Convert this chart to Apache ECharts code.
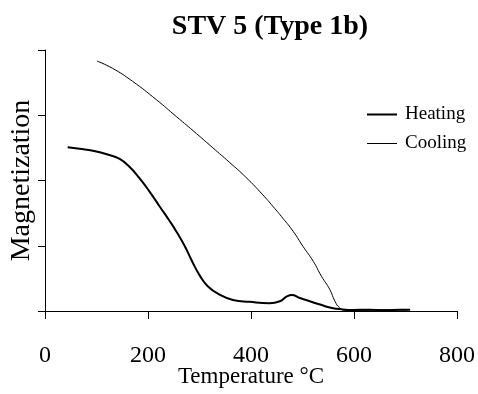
<!DOCTYPE html>
<html>
<head>
<meta charset="utf-8">
<script src="https://cdn.jsdelivr.net/npm/echarts@6/dist/echarts.min.js"></script>
<style>html,body{margin:0;padding:0;background:#fff;}#c{width:478px;height:394px;}</style>
</head>
<body>
<div id="c"></div>
<script>
var xTicks = [0, 200, 400, 600, 800];
var heatT = [44, 67, 93, 125, 145, 164, 183, 203, 222, 242, 255, 271, 287, 300, 316, 339, 365, 397, 436, 456, 469, 479, 495, 514, 534, 553, 572, 598, 630, 660, 690, 709];
var heatV = [2.51, 2.485, 2.455, 2.39, 2.33, 2.21, 2.04, 1.83, 1.61, 1.38, 1.22, 1.00, 0.74, 0.55, 0.38, 0.25, 0.17, 0.14, 0.12, 0.15, 0.22, 0.245, 0.20, 0.15, 0.10, 0.055, 0.03, 0.015, 0.02, 0.01, 0.02, 0.02];
var coolT = [101, 131, 170, 216, 255, 294, 326, 358, 390, 423, 443, 462, 482, 501, 521, 537, 553, 563, 572, 585, 620, 660, 700, 705];
var coolV = [3.83, 3.72, 3.52, 3.24, 2.98, 2.72, 2.50, 2.28, 2.05, 1.78, 1.60, 1.42, 1.22, 0.99, 0.76, 0.53, 0.33, 0.15, 0.05, 0.01, 0.01, 0.02, 0.015, 0.02];

function pairs(a, b) { return a.map(function (t, i) { return [t, b[i]]; }); }

var font = 'Liberation Serif, Times New Roman, serif';
var legendText = { fontFamily: font, fontSize: 19, color: '#000', padding: [0, 0, 0, 3] };
var chart = echarts.init(document.getElementById('c'));
chart.setOption({
  animation: false,
  backgroundColor: '#fff',
  title: {
    text: 'STV 5 (Type 1b)',
    left: 265, top: 8, textAlign: 'center',
    textStyle: { fontFamily: font, fontSize: 28, fontWeight: 'bold', color: '#000' }
  },
  legend: [
    { orient: 'vertical', left: 362, top: 100, itemWidth: 30, itemHeight: 2, icon: 'rect',
      textStyle: legendText, data: ['Heating'] },
    { orient: 'vertical', left: 362, top: 129, itemWidth: 30, itemHeight: 1, icon: 'rect',
      textStyle: legendText, data: ['Cooling'] }
  ],
  grid: { left: 45, right: 21, top: 50, bottom: 83, outerBoundsMode: 'none', containLabel: false },
  xAxis: {
    type: 'value', min: 0, max: 800, interval: 200,
    name: 'Temperature \u00B0C', nameLocation: 'middle', nameGap: 54, nameMoveOverlap: false,
    nameTextStyle: { fontFamily: font, fontSize: 23, color: '#000' },
    axisLine: { lineStyle: { color: '#000', width: 1 } },
    axisTick: { length: 8, lineStyle: { color: '#000' } },
    axisLabel: { fontFamily: font, fontSize: 24, color: '#000', margin: 33,
      formatter: function (v) { return xTicks.indexOf(v) >= 0 ? String(v) : ''; } },
    splitLine: { show: false }
  },
  yAxis: {
    type: 'value', min: 0, max: 4, interval: 1,
    name: 'Magnetization', nameLocation: 'middle', nameGap: 9,
    nameTextStyle: { fontFamily: font, fontSize: 28, color: '#000' },
    axisLine: { show: true, lineStyle: { color: '#000', width: 1 } },
    axisTick: { show: true, length: 7, lineStyle: { color: '#000' } },
    axisLabel: { show: false },
    splitLine: { show: false }
  },
  series: [
    { name: 'Heating', type: 'line', data: pairs(heatT, heatV), smooth: 0.5, symbol: 'none',
      lineStyle: { color: '#000', width: 2 }, itemStyle: { color: '#000' } },
    { name: 'Cooling', type: 'line', data: pairs(coolT, coolV), smooth: 0.5, symbol: 'none',
      lineStyle: { color: '#000', width: 1 }, itemStyle: { color: '#000' } }
  ]
});
</script>
</body>
</html>
